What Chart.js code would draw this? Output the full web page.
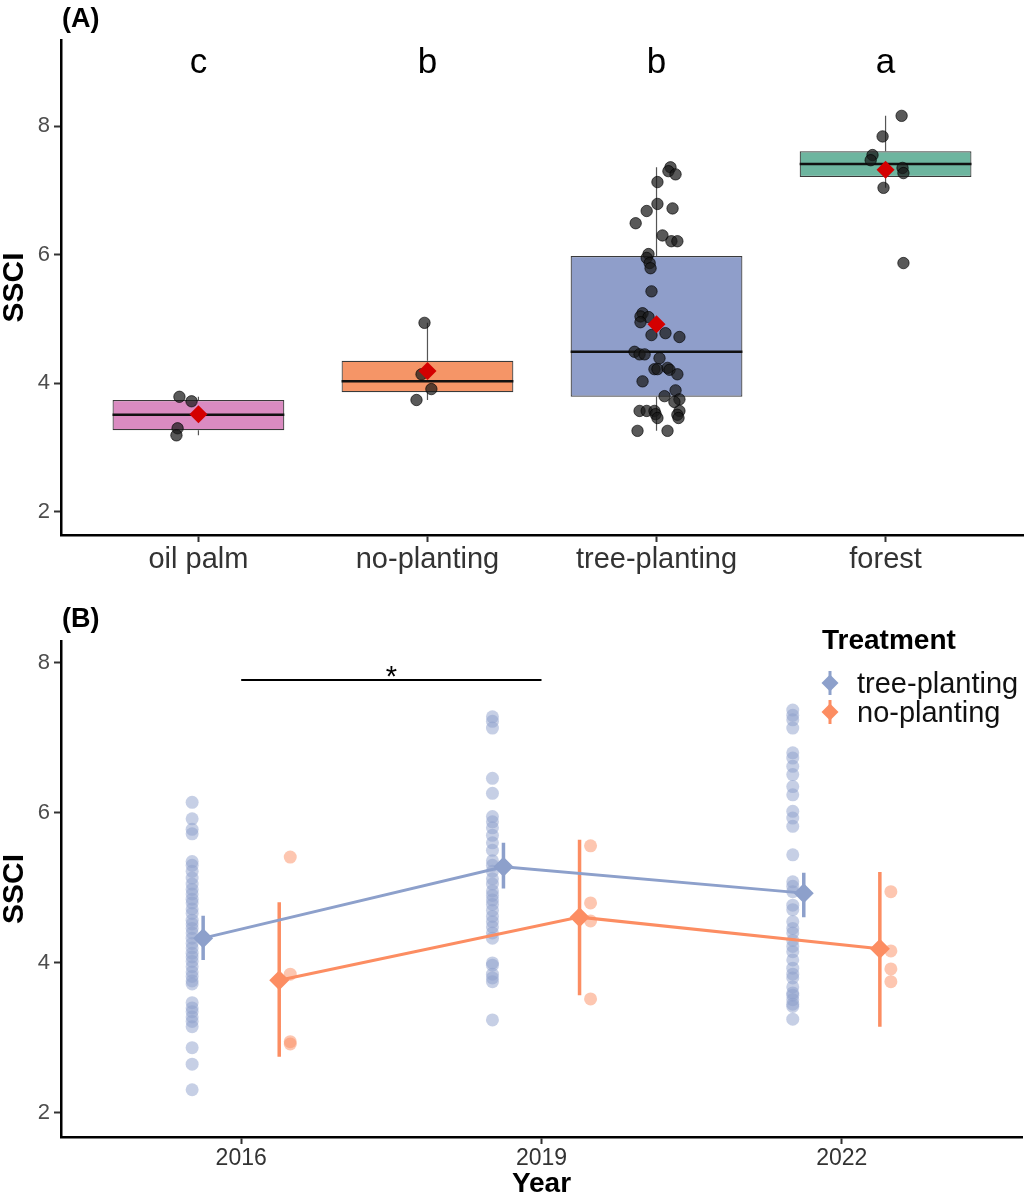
<!DOCTYPE html>
<html>
<head>
<meta charset="utf-8">
<script src="https://cdn.jsdelivr.net/npm/chart.js@4.4.1/dist/chart.umd.min.js"></script>
<style>
  html, body { margin: 0; padding: 0; background: #fff; }
  .panel { position: absolute; left: 0; width: 1032px; height: 600px; }
</style>
</head>
<body>
<div class="panel" style="top:0"><canvas id="panelA"></canvas></div>
<div class="panel" style="top:600px"><canvas id="panelB"></canvas></div>
<script>
// ---- panel A: SSCI by land use ----
const categories = ['oil palm', 'no-planting', 'tree-planting', 'forest'];
const groupLetters = ['c', 'b', 'b', 'a'];
const boxQ1 = [3.27, 3.86, 3.79, 7.21];
const boxMedian = [3.51, 4.03, 4.49, 7.41];
const boxQ3 = [3.74, 4.35, 5.98, 7.61];
const whiskerLo = [3.19, 3.74, 3.26, 7.04];
const whiskerHi = [3.79, 4.94, 7.36, 8.16];
const groupMeans = [3.52, 4.19, 4.92, 7.32];
const boxColors = ['#DA8BC1', '#F59567', '#8F9ECA', '#6DB59F'];

// plot values and the horizontal jitter they were drawn with (category units)
const oilPalmSSCI = [3.79, 3.72, 3.30, 3.19];
const oilPalmJitter = [-0.083, -0.030, -0.091, -0.096];
const noPlantingSSCI = [4.94, 4.14, 3.91, 3.74];
const noPlantingJitter = [-0.013, -0.026, 0.017, -0.048];
const treePlantingSSCI = [7.36, 7.30, 7.25, 7.13, 6.79, 6.68, 6.72, 6.49, 6.30, 6.21, 6.21, 6.01, 5.95, 5.87, 5.79, 5.43,
  5.09, 5.04, 5.03, 4.95, 4.75, 4.78, 4.72, 4.49, 4.45, 4.45, 4.39, 4.22, 4.22, 4.24, 4.21, 4.14, 4.03, 3.89, 3.80, 3.75,
  3.71, 3.57, 3.57, 3.57, 3.52, 3.46, 3.57, 3.51, 3.46, 3.26, 3.26];
const treePlantingJitter = [0.061, 0.052, 0.083, 0.004, 0.004, -0.043, 0.070, -0.091, 0.026, 0.065, 0.091, -0.035, -0.043,
  -0.030, -0.026, -0.022, -0.061, -0.070, -0.035, -0.070, -0.022, 0.039, 0.100, -0.096, -0.074, -0.052, 0.013, -0.009,
  0.004, 0.048, 0.057, 0.091, -0.061, 0.083, 0.035, 0.100, 0.078, -0.074, -0.043, -0.009, -0.004, 0.004, 0.100, 0.091,
  0.096, -0.083, 0.048];
const forestSSCI = [8.16, 7.84, 7.55, 7.47, 7.35, 7.27, 7.04, 5.87];
const forestJitter = [0.070, -0.013, -0.057, -0.065, 0.074, 0.078, -0.009, 0.078];
const yTicksA = [2, 4, 6, 8];

// ---- panel B: SSCI over time ----
const years = [2016, 2019, 2022];
const treeMeans = [4.33, 5.28, 4.93];
const treeLo = [4.04, 4.99, 4.61];
const treeHi = [4.63, 5.60, 5.20];
const noMeans = [3.77, 4.61, 4.19];
const noLo = [2.75, 3.57, 3.15];
const noHi = [4.81, 5.64, 5.21];
const tree2016 = [6.14, 5.92, 5.78, 5.72, 5.35, 5.30, 5.22, 5.13, 5.05, 4.98, 4.92, 4.85, 4.80, 4.72, 4.66, 4.57, 4.52,
  4.46, 4.40, 4.33, 4.26, 4.20, 4.13, 4.08, 4.02, 3.95, 3.88, 3.82, 3.76, 3.72, 3.47, 3.40, 3.35, 3.28, 3.22, 3.15, 2.87,
  2.65, 2.31];
const tree2019 = [7.28, 7.22, 7.13, 6.46, 6.26, 5.95, 5.88, 5.80, 5.70, 5.60, 5.50, 5.36, 5.30, 5.22, 5.12, 5.05, 4.96,
  4.90, 4.84, 4.78, 4.70, 4.62, 4.55, 4.48, 4.40, 4.33, 4.00, 3.97, 3.85, 3.80, 3.75, 3.24];
const tree2022 = [7.37, 7.30, 7.24, 7.13, 6.80, 6.73, 6.62, 6.51, 6.35, 6.24, 6.02, 5.93, 5.82, 5.44, 5.08, 5.02, 4.95,
  4.77, 4.71, 4.55, 4.46, 4.40, 4.30, 4.22, 4.15, 4.04, 3.93, 3.85, 3.80, 3.68, 3.60, 3.57, 3.51, 3.45, 3.42, 3.25];
const no2016 = [5.41, 3.85, 2.95, 2.92];
const no2019 = [5.56, 4.80, 4.56, 3.52];
const no2022 = [4.95, 4.16, 3.92, 3.75];
const sigBar = { from: 2016, to: 2019, level: 7.77, label: '*' };
const yTicksB = [2, 4, 6, 8];

const TREE = '#8DA0CB';
const NO = '#FC8D62';
const FONT = "'Liberation Sans', Arial, Helvetica, sans-serif";
Chart.defaults.font.family = FONT;
Chart.defaults.animation = false;

const axisBorder = { display: true, color: '#000', width: 2.5 };
const axisGrid = { display: true, offset: false, drawOnChartArea: false, drawTicks: true, tickLength: 7, tickColor: '#333', tickWidth: 2 };

const jittered = (vals, jit, centre) => vals.map((v, i) => ({ x: centre + jit[i], y: v }));
const atX = (vals, x) => vals.map((v) => ({ x, y: v }));

const whiskerData = [];
categories.forEach((_, i) => {
  const x = i + 1;
  whiskerData.push({ x, y: whiskerLo[i] }, { x, y: boxQ1[i] }, { x, y: null });
  whiskerData.push({ x, y: boxQ3[i] }, { x, y: whiskerHi[i] }, { x, y: null });
});

const panelLabel = (text) => ({
  id: 'panelLabel',
  afterDraw(chart) {
    const { ctx, chartArea } = chart;
    ctx.save();
    ctx.font = `bold 27px ${FONT}`;
    ctx.fillStyle = '#000';
    ctx.textBaseline = 'middle';
    ctx.fillText(text, chartArea.left + 1, 20);
    ctx.restore();
  }
});

const letterPlugin = {
  id: 'letters',
  afterDatasetsDraw(chart) {
    const { ctx, scales } = chart;
    ctx.save();
    ctx.font = `35px ${FONT}`;
    ctx.fillStyle = '#000';
    ctx.textAlign = 'center';
    ctx.textBaseline = 'alphabetic';
    groupLetters.forEach((l, i) => {
      ctx.fillText(l, scales.x.getPixelForValue(i + 1), scales.y.getPixelForValue(8.82));
    });
    ctx.restore();
  }
};

new Chart(document.getElementById('panelA'), {
  type: 'bar',
  data: {
    datasets: [
      {
        type: 'line', data: whiskerData, borderColor: '#555', borderWidth: 1.2,
        pointRadius: 0, spanGaps: false, order: 6
      },
      {
        type: 'bar', data: categories.map((_, i) => ({ x: i + 1, y: [boxQ1[i], boxQ3[i]] })),
        backgroundColor: boxColors, borderColor: '#3a3a3a', borderWidth: 1.2, borderSkipped: false,
        categoryPercentage: 1, barPercentage: 0.75, order: 5
      },
      {
        type: 'scatter', data: boxMedian.map((v, i) => ({ x: i + 1, y: v })),
        pointStyle: 'line', borderColor: '#111', borderWidth: 2.5,
        radius: (c) => c.chart.scales.x.getPixelForValue(1.375) - c.chart.scales.x.getPixelForValue(1),
        order: 4
      },
      {
        type: 'scatter',
        data: [
          ...jittered(oilPalmSSCI, oilPalmJitter, 1),
          ...jittered(noPlantingSSCI, noPlantingJitter, 2),
          ...jittered(treePlantingSSCI, treePlantingJitter, 3),
          ...jittered(forestSSCI, forestJitter, 4)
        ],
        backgroundColor: 'rgba(25,25,25,0.72)', borderColor: 'rgba(0,0,0,0.8)', borderWidth: 0.8,
        radius: 5.7, order: 2
      },
      {
        type: 'scatter', data: groupMeans.map((v, i) => ({ x: i + 1, y: v })),
        pointStyle: 'rectRot', radius: 9, backgroundColor: '#D40000', borderWidth: 0, order: 1
      }
    ]
  },
  options: {
    responsive: true,
    maintainAspectRatio: false,
    events: [],
    layout: { padding: { top: 40, right: 4, left: 0, bottom: 0 } },
    plugins: { legend: { display: false }, tooltip: { enabled: false } },
    scales: {
      x: {
        type: 'linear', min: 0.4, max: 4.6, offset: false,
        afterBuildTicks: (s) => { s.ticks = categories.map((_, i) => ({ value: i + 1 })); },
        afterFit: (s) => { s.height = 65; },
        border: axisBorder, grid: axisGrid,
        ticks: { color: '#333', font: { size: 29 }, padding: 1, autoSkip: false, maxRotation: 0,
          callback: (v) => categories[v - 1] }
      },
      y: {
        type: 'linear', min: 1.64, max: 9.34,
        afterBuildTicks: (s) => { s.ticks = yTicksA.map((v) => ({ value: v })); },
        afterFit: (s) => { s.width = 61; },
        border: axisBorder, grid: axisGrid,
        title: { display: true, text: 'SSCI', color: '#000', font: { size: 30, weight: 'bold', lineHeight: 1 }, padding: 0 },
        ticks: { color: '#4d4d4d', font: { size: 22 }, padding: 4 }
      }
    }
  },
  plugins: [panelLabel('(A)'), letterPlugin]
});

// ---- panel B ----
const meanDodge = 0.38;
const pointDodge = 0.49;
const errorData = (lo, hi, shift) => {
  const out = [];
  years.forEach((yr, i) => {
    out.push({ x: yr + shift, y: lo[i] }, { x: yr + shift, y: hi[i] }, { x: yr + shift, y: null });
  });
  return out;
};

const sigPlugin = {
  id: 'sig',
  afterDatasetsDraw(chart) {
    const { ctx, scales } = chart;
    ctx.save();
    ctx.font = `29px ${FONT}`;
    ctx.fillStyle = '#000';
    ctx.textAlign = 'center';
    ctx.textBaseline = 'alphabetic';
    const xm = (scales.x.getPixelForValue(sigBar.from) + scales.x.getPixelForValue(sigBar.to)) / 2;
    ctx.fillText(sigBar.label, xm, scales.y.getPixelForValue(sigBar.level) + 6);
    ctx.restore();
  }
};

const legendPlugin = {
  id: 'treatmentLegend',
  afterDraw(chart) {
    const { ctx } = chart;
    ctx.save();
    ctx.fillStyle = '#000';
    ctx.font = `bold 28px ${FONT}`;
    ctx.textBaseline = 'alphabetic';
    ctx.fillText('Treatment', 822, 49);
    const items = [['tree-planting', TREE], ['no-planting', NO]];
    items.forEach(([label, col], i) => {
      const cx = 830;
      const cy = 83 + i * 29;
      ctx.strokeStyle = col;
      ctx.lineWidth = 3;
      ctx.beginPath();
      ctx.moveTo(cx, cy - 12);
      ctx.lineTo(cx, cy + 12);
      ctx.stroke();
      ctx.fillStyle = col;
      ctx.beginPath();
      ctx.moveTo(cx, cy - 8.5);
      ctx.lineTo(cx + 8.5, cy);
      ctx.lineTo(cx, cy + 8.5);
      ctx.lineTo(cx - 8.5, cy);
      ctx.closePath();
      ctx.fill();
      ctx.fillStyle = '#111';
      ctx.font = `29px ${FONT}`;
      ctx.fillText(label, 857, cy + 10);
    });
    ctx.restore();
  }
};

new Chart(document.getElementById('panelB'), {
  type: 'scatter',
  data: {
    datasets: [
      {
        data: [...atX(tree2016, 2016 - pointDodge), ...atX(tree2019, 2019 - pointDodge), ...atX(tree2022, 2022 - pointDodge)],
        backgroundColor: 'rgba(141,160,203,0.5)', borderWidth: 0, radius: 6.5, order: 9
      },
      {
        data: [...atX(no2016, 2016 + pointDodge), ...atX(no2019, 2019 + pointDodge), ...atX(no2022, 2022 + pointDodge)],
        backgroundColor: 'rgba(252,141,98,0.5)', borderWidth: 0, radius: 6.5, order: 8
      },
      {
        type: 'line', data: errorData(treeLo, treeHi, -meanDodge), borderColor: TREE, borderWidth: 3.5,
        pointRadius: 0, spanGaps: false, order: 5
      },
      {
        type: 'line', data: errorData(noLo, noHi, meanDodge), borderColor: NO, borderWidth: 3.5,
        pointRadius: 0, spanGaps: false, order: 4
      },
      {
        type: 'line', data: years.map((yr, i) => ({ x: yr - meanDodge, y: treeMeans[i] })),
        borderColor: TREE, backgroundColor: TREE, borderWidth: 3, pointStyle: 'rectRot', pointRadius: 10,
        pointBorderWidth: 0, order: 3
      },
      {
        type: 'line', data: years.map((yr, i) => ({ x: yr + meanDodge, y: noMeans[i] })),
        borderColor: NO, backgroundColor: NO, borderWidth: 3, pointStyle: 'rectRot', pointRadius: 10,
        pointBorderWidth: 0, order: 2
      },
      {
        type: 'line', data: [{ x: sigBar.from, y: sigBar.level }, { x: sigBar.to, y: sigBar.level }],
        borderColor: '#000', borderWidth: 2, pointRadius: 0, order: 1
      }
    ]
  },
  options: {
    responsive: true,
    maintainAspectRatio: false,
    events: [],
    layout: { padding: { top: 41, right: 4, left: 0, bottom: 0 } },
    plugins: { legend: { display: false }, tooltip: { enabled: false } },
    scales: {
      x: {
        type: 'linear', min: 2014.2, max: 2023.8,
        afterBuildTicks: (s) => { s.ticks = years.map((v) => ({ value: v })); },
        afterFit: (s) => { s.height = 63; },
        border: axisBorder, grid: axisGrid,
        title: { display: true, text: 'Year', color: '#000', font: { size: 28, weight: 'bold', lineHeight: 1 }, padding: { top: 0, bottom: 2 } },
        ticks: { color: '#333', font: { size: 23 }, padding: 1, maxRotation: 0, callback: (v) => String(v) }
      },
      y: {
        type: 'linear', min: 1.68, max: 8.29,
        afterBuildTicks: (s) => { s.ticks = yTicksB.map((v) => ({ value: v })); },
        afterFit: (s) => { s.width = 61; },
        border: axisBorder, grid: axisGrid,
        title: { display: true, text: 'SSCI', color: '#000', font: { size: 30, weight: 'bold', lineHeight: 1 }, padding: 0 },
        ticks: { color: '#4d4d4d', font: { size: 22 }, padding: 4 }
      }
    }
  },
  plugins: [panelLabel('(B)'), sigPlugin, legendPlugin]
});
</script>
</body>
</html>
